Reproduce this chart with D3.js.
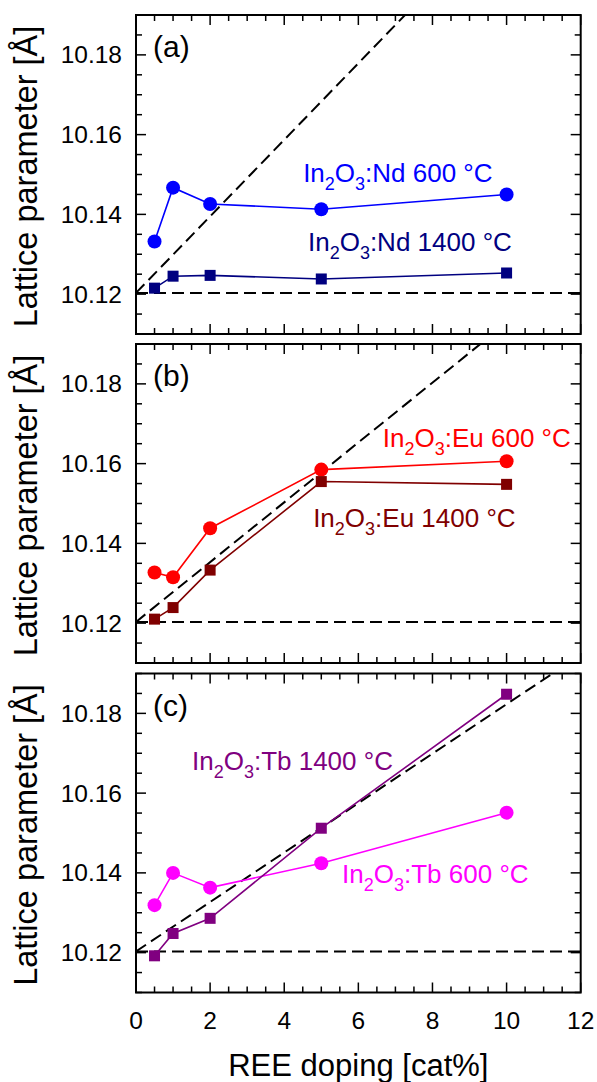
<!DOCTYPE html>
<html>
<head>
<meta charset="utf-8">
<script src="https://cdn.jsdelivr.net/npm/d3@7"></script>
<style>
  html, body { margin: 0; padding: 0; background: #fff; }
  svg { display: block; font-family: "Liberation Sans", Arial, sans-serif; }
</style>
</head>
<body>
<script>
// ---- data ----
const doping = [0.5, 1, 2, 5, 10];
const nd600  = [10.1332, 10.1467, 10.1426, 10.1413, 10.1450];
const nd1400 = [10.1215, 10.1245, 10.1247, 10.1238, 10.1253];
const eu600  = [10.1327, 10.1315, 10.1438, 10.1585, 10.1606];
const eu1400 = [10.1210, 10.1239, 10.1333, 10.1555, 10.1548];
const tb600  = [10.1319, 10.1400, 10.1363, 10.1424, 10.1551];
const tb1400 = [10.1192, 10.1248, 10.1286, 10.1512, 10.1848];
const undopedValue = 10.1203;                     // horizontal dashed reference
const vegardEnd = [10.2355, 10.2103, 10.1947];    // sloped dashed line value at x = 12
const xTicks = [0, 2, 4, 6, 8, 10, 12];
const yTicks = [10.12, 10.14, 10.16, 10.18];
const panelLabels = ["(a)", "(b)", "(c)"];
const seriesLabels = [
  [["In", "2", "O", "3", ":Nd 600 °C"], ["In", "2", "O", "3", ":Nd 1400 °C"]],
  [["In", "2", "O", "3", ":Eu 600 °C"], ["In", "2", "O", "3", ":Eu 1400 °C"]],
  [["In", "2", "O", "3", ":Tb 1400 °C"], ["In", "2", "O", "3", ":Tb 600 °C"]]
];
const xTitle = "REE doping [cat%]";
const yTitle = "Lattice parameter [Å]";

// ---- layout ----
const W = 597, H = 1082;
const left = 136, right = 580.7;
const panelTops = [15, 344, 673.5];
const panelH = 319;

const panels = [
  { series: [
      { vals: nd600, color: "#0000ff", shape: "circle" },
      { vals: nd1400, color: "#000080", shape: "square" } ],
    labels: [ { text: seriesLabels[0][0], x: 4.51, y: 10.148, color: "#0000ff" },
              { text: seriesLabels[0][1], x: 4.64, y: 10.1309, color: "#000080" } ] },
  { series: [
      { vals: eu600, color: "#ff0000", shape: "circle" },
      { vals: eu1400, color: "#800000", shape: "square" } ],
    labels: [ { text: seriesLabels[1][0], x: 6.66, y: 10.1641, color: "#ff0000" },
              { text: seriesLabels[1][1], x: 4.78, y: 10.144, color: "#800000" } ] },
  { series: [
      { vals: tb600, color: "#ff00ff", shape: "circle" },
      { vals: tb1400, color: "#800080", shape: "square" } ],
    labels: [ { text: seriesLabels[2][0], x: 1.51, y: 10.1657, color: "#800080" },
              { text: seriesLabels[2][1], x: 5.56, y: 10.1375, color: "#ff00ff" } ] }
];

const svg = d3.select("body").append("svg").attr("width", W).attr("height", H);
const x = d3.scaleLinear().domain([0, 12]).range([left, right]);
const xMinor = d3.range(0, 12.01, 0.5);
const yMinor = d3.range(10.11, 10.1901, 0.005);

panels.forEach((p, i) => {
  const top = panelTops[i];
  const y = d3.scaleLinear().domain([10.11, 10.19]).range([top + panelH, top]);
  const g = svg.append("g");
  const clipId = "clip" + i;
  svg.append("clipPath").attr("id", clipId).append("rect")
    .attr("x", left).attr("y", top).attr("width", right - left).attr("height", panelH);

  // ticks (inward, all sides)
  const tg = g.append("g").attr("stroke", "#000").attr("stroke-width", 1.5);
  xMinor.forEach(v => {
    const major = Math.abs(v / 2 - Math.round(v / 2)) < 1e-6;
    const len = major ? 10 : 6;
    tg.append("line").attr("x1", x(v)).attr("x2", x(v)).attr("y1", top + panelH).attr("y2", top + panelH - len);
    tg.append("line").attr("x1", x(v)).attr("x2", x(v)).attr("y1", top).attr("y2", top + len);
  });
  yMinor.forEach(v => {
    const major = yTicks.some(t => Math.abs(t - v) < 1e-6);
    const len = major ? 10 : 6;
    tg.append("line").attr("x1", left).attr("x2", left + len).attr("y1", y(v)).attr("y2", y(v));
    tg.append("line").attr("x1", right).attr("x2", right - len).attr("y1", y(v)).attr("y2", y(v));
  });

  // y tick labels
  g.selectAll(".ylab").data(yTicks).enter().append("text")
    .attr("x", 122).attr("y", d => y(d)).attr("dy", "0.35em")
    .attr("text-anchor", "end").attr("font-size", 24.5).attr("fill", "#000")
    .text(d => d.toFixed(2));

  // reference lines
  const cg = g.append("g").attr("clip-path", `url(#${clipId})`);
  cg.append("line").attr("x1", x(0)).attr("x2", x(12))
    .attr("y1", y(undopedValue)).attr("y2", y(undopedValue))
    .attr("stroke", "#000").attr("stroke-width", 2).attr("stroke-dasharray", "12,6");
  cg.append("line").attr("x1", x(0)).attr("x2", x(12))
    .attr("y1", y(undopedValue)).attr("y2", y(vegardEnd[i]))
    .attr("stroke", "#000").attr("stroke-width", 2).attr("stroke-dasharray", "12,6");

  // series
  const line = d3.line().x((d, j) => x(doping[j])).y(d => y(d));
  p.series.forEach(s => {
    cg.append("path").attr("d", line(s.vals)).attr("fill", "none")
      .attr("stroke", s.color).attr("stroke-width", 1.6);
    if (s.shape === "circle") {
      cg.selectAll(null).data(s.vals).enter().append("circle")
        .attr("cx", (d, j) => x(doping[j])).attr("cy", d => y(d)).attr("r", 7)
        .attr("fill", s.color);
    } else {
      cg.selectAll(null).data(s.vals).enter().append("rect")
        .attr("x", (d, j) => x(doping[j]) - 5.5).attr("y", d => y(d) - 5.5)
        .attr("width", 11).attr("height", 11).attr("fill", s.color);
    }
  });

  // series labels
  p.labels.forEach(l => {
    const t = g.append("text").attr("x", x(l.x)).attr("y", y(l.y))
      .attr("font-size", 26).attr("fill", l.color);
    l.text.forEach((part, k) => {
      const sub = (k === 1 || k === 3);
      const ts = t.append("tspan").text(part);
      if (sub) ts.attr("font-size", 18).attr("dy", 8);
      else if (k > 0) ts.attr("dy", -8);
    });
  });

  // panel letter
  g.append("text").attr("x", left + 17).attr("y", top + 42)
    .attr("font-size", 30).attr("fill", "#000").text(panelLabels[i]);

  // frame
  g.append("rect").attr("x", left).attr("y", top).attr("width", right - left).attr("height", panelH)
    .attr("fill", "none").attr("stroke", "#000").attr("stroke-width", 2);

  // y title
  g.append("text")
    .attr("transform", `translate(37,${top + panelH / 2 + 2}) rotate(-90)`)
    .attr("text-anchor", "middle").attr("font-size", 32.5).attr("fill", "#000")
    .text(yTitle);
});

// x tick labels
svg.selectAll(".xlab").data(xTicks).enter().append("text")
  .attr("x", d => x(d)).attr("y", 1029).attr("text-anchor", "middle")
  .attr("font-size", 24.5).attr("fill", "#000").text(d => d);

svg.append("text").attr("x", (left + right) / 2).attr("y", 1076)
  .attr("text-anchor", "middle").attr("font-size", 31).attr("fill", "#000").text(xTitle);
</script>
</body>
</html>
